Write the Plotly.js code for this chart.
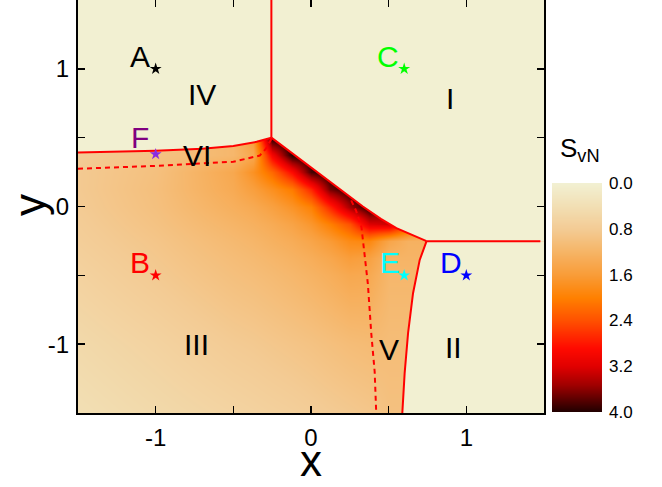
<!DOCTYPE html>
<html>
<head>
<meta charset="utf-8">
<script src="https://cdn.plot.ly/plotly-3.0.1.min.js"></script>
<style>
  body { margin: 0; background: #ffffff; }
  #myPlot { width: 662px; height: 487px; }
</style>
</head>
<body>
<div id="myPlot"></div>
<script>
// Grid of S_vN values
var gridX = [-1.5, -1.0, -0.5, -0.375, -0.25, -0.125, 0, 0.125, 0.25, 0.375, 0.5, 0.625, 0.75, 1.0, 1.5];
var gridY = [-1.5, -1.0, -0.5, -0.375, -0.25, -0.125, 0, 0.125, 0.25, 0.375, 0.5, 1.5];
var svnM150 = [0.40, 0.52, 0.63, 0.66, 0.69, 0.72, 0.76, 0.80, 0.84, 0.88, 0.98, 0.98, 0.98, 0.98, 0.98];
var svnM100 = [0.52, 0.65, 0.80, 0.83, 0.87, 0.91, 0.95, 1.00, 1.05, 1.08, 1.05, 1.05, 1.05, 1.05, 1.05];
var svnM050 = [0.66, 0.82, 1.00, 1.04, 1.09, 1.15, 1.22, 1.30, 1.40, 1.38, 1.15, 1.15, 1.15, 1.15, 1.15];
var svnM038 = [0.70, 0.86, 1.05, 1.10, 1.16, 1.23, 1.31, 1.42, 1.58, 1.52, 1.20, 1.20, 1.20, 1.20, 1.20];
var svnM025 = [0.74, 0.90, 1.11, 1.17, 1.25, 1.33, 1.45, 1.62, 1.85, 1.90, 1.45, 1.25, 1.25, 1.25, 1.25];
var svnM013 = [0.77, 0.95, 1.19, 1.26, 1.35, 1.48, 1.68, 2.00, 2.40, 3.20, 3.30, 2.60, 1.50, 1.25, 1.25];
var svnP000 = [0.80, 0.99, 1.28, 1.37, 1.52, 1.72, 1.98, 2.70, 3.50, 4.00, 3.60, 2.60, 1.50, 1.25, 1.25];
var svnP013 = [0.82, 1.01, 1.36, 1.55, 1.78, 2.05, 2.70, 3.70, 4.00, 4.00, 3.60, 2.60, 1.50, 1.25, 1.25];
var svnP025 = [0.82, 0.99, 1.40, 1.75, 2.20, 2.90, 3.85, 4.00, 4.00, 4.00, 3.60, 2.60, 1.50, 1.25, 1.25];
var svnP038 = [0.78, 0.95, 1.15, 1.40, 3.00, 4.00, 4.00, 4.00, 4.00, 4.00, 3.60, 2.60, 1.50, 1.25, 1.25];
var svnP050 = [0.78, 0.95, 1.15, 1.60, 4.00, 4.00, 4.00, 4.00, 4.00, 4.00, 3.60, 2.60, 1.50, 1.25, 1.25];
var svnP150 = [0.78, 0.95, 1.15, 1.60, 4.00, 4.00, 4.00, 4.00, 4.00, 4.00, 3.60, 2.60, 1.50, 1.25, 1.25];

// Phase boundaries (solid)
var vertX = [-0.255, -0.255];
var vertY = [1.5, 0.5];
var viX = [-1.5, -1.0, -0.7, -0.5, -0.35, -0.255];
var viY = [0.392, 0.405, 0.42, 0.44, 0.47, 0.5];
var diagX = [-0.255, -0.1, 0.118, 0.334, 0.45, 0.55, 0.744];
var diagY = [0.5, 0.37, 0.182, 0.0, -0.09, -0.157, -0.252];
var horX = [0.744, 1.477];
var horY = [-0.252, -0.252];
var vRightX = [0.744, 0.70, 0.657, 0.625, 0.603, 0.588];
var vRightY = [-0.252, -0.388, -0.63, -0.92, -1.21, -1.5];
// Dashed lines
var dashViX = [-1.5, -1.0, -0.5, -0.33, -0.29, -0.255];
var dashViY = [0.274, 0.295, 0.325, 0.37, 0.42, 0.49];
var dashVX = [0.259, 0.29, 0.325, 0.345, 0.366, 0.388, 0.41, 0.42];
var dashVY = [0.045, -0.03, -0.15, -0.35, -0.56, -0.92, -1.2, -1.5];

// Points A-F
var ptName = ["A", "C", "F", "B", "E", "D"];
var ptX = [-1, 0.6, -1, -1, 0.6, 1];
var ptY = [1, 1, 0.38, -0.5, -0.5, -0.5];
var ptStar = ["#000000", "#00ff00", "#8a2be2", "#ff0000", "#00ffff", "#0000ff"];
var ptText = ["#000000", "#00ff00", "#800080", "#ff0000", "#00ffff", "#0000ff"];
var nameX = [-1.101, 0.497, -1.104, -1.101, 0.506, 0.899];
var nameY = [1.092, 1.092, 0.50, -0.406, -0.406, -0.406];

// Region labels
var regName = ["IV", "I", "VI", "III", "V", "II"];
var regX = [-0.703, 0.898, -0.735, -0.739, 0.50, 0.920];
var regY = [0.812, 0.783, 0.369, -0.999, -1.042, -1.024];

// Colour bar
var barLevels = [0, 4];
var barTicks = [0, 0.8, 1.6, 2.4, 3.2, 4.0];

var cream = "#f2f0d2";
var heat = [[0, "#f2f0d2"], [0.1, "#f2dfb4"], [0.2, "#f3cb94"], [0.3, "#f6b466"], [0.4, "#f99c38"],
  [0.5, "#ff8000"], [0.6, "#ff5000"], [0.72, "#ff0a00"], [0.8, "#e00000"], [0.88, "#a00000"], [1, "#1e0000"]];
var font = "Liberation Sans, Arial, sans-serif";

// Define Data
var data = [];
data.push({
  type: "heatmap", x: gridX, y: gridY,
  z: [svnM150, svnM100, svnM050, svnM038, svnM025, svnM013, svnP000, svnP013, svnP025, svnP038, svnP050, svnP150],
  zmin: 0, zmax: 4, colorscale: heat, zsmooth: "best", showscale: false, hoverinfo: "skip"
});

// cream regions I, II, IV on top of the map
data.push({
  x: [-1.6].concat(vertX, viX.slice().reverse(), [-1.6]),
  y: [1.6].concat([1.6, 0.5], viY.slice().reverse(), [0.392]),
  mode: "none", fill: "toself", fillcolor: cream, hoverinfo: "skip"
});
data.push({
  x: [-0.255].concat(diagX, [1.6, 1.6]),
  y: [1.6].concat(diagY, [-0.252, 1.6]),
  mode: "none", fill: "toself", fillcolor: cream, hoverinfo: "skip"
});
data.push({
  x: vRightX.concat([0.588, 1.6, 1.6]),
  y: vRightY.concat([-1.6, -1.6, -0.252]),
  mode: "none", fill: "toself", fillcolor: cream, hoverinfo: "skip"
});

var solid = {color: "#ff0000", width: 2};
var dashed = {color: "#ff0000", width: 2, dash: "5px,4px"};
data.push({x: vertX, y: vertY, mode: "lines", line: solid});
data.push({x: viX, y: viY, mode: "lines", line: solid});
data.push({x: diagX, y: diagY, mode: "lines", line: solid});
data.push({x: horX, y: horY, mode: "lines", line: solid});
data.push({x: vRightX, y: vRightY, mode: "lines", line: solid});
data.push({x: dashViX, y: dashViY, mode: "lines", line: dashed});
data.push({x: dashVX, y: dashVY, mode: "lines", line: dashed});

data.push({
  x: ptX, y: ptY, mode: "markers",
  marker: {symbol: "star", size: 9, color: ptStar, line: {width: 0}}
});

// colour bar drawn as its own small heatmap so 0 sits at the top
data.push({
  type: "heatmap", x: [0, 1], y: barLevels, z: [[barLevels[0], barLevels[0]], [barLevels[1], barLevels[1]]],
  xaxis: "x2", yaxis: "y2", zmin: 0, zmax: 4, colorscale: heat, zsmooth: "best", showscale: false, hoverinfo: "skip"
});

var ann = [];
for (var k = 0; k < ptName.length; k++) {
  ann.push({x: nameX[k], y: nameY[k], xref: "x", yref: "y", text: ptName[k], showarrow: false,
    xanchor: "center", yanchor: "middle", font: {family: font, size: 30, color: ptText[k]}});
}
for (var k = 0; k < regName.length; k++) {
  ann.push({x: regX[k], y: regY[k], xref: "x", yref: "y", text: regName[k], showarrow: false,
    xanchor: "center", yanchor: "middle", font: {family: font, size: 30, color: "#000000"}});
}
ann.push({x: 0.5 * 0.8262, y: -0.116, xref: "paper", yref: "paper", text: "x", showarrow: false,
  xanchor: "center", yanchor: "middle", font: {family: font, size: 44, color: "#000000"}});
ann.push({x: -0.085, y: 0.504, xref: "paper", yref: "paper", text: "y", textangle: -90, showarrow: false,
  xanchor: "center", yanchor: "middle", font: {family: font, size: 44, color: "#000000"}});
ann.push({x: 0.851, y: 0.637, xref: "paper", yref: "paper", xanchor: "left", yanchor: "middle",
  text: "S<sub>vN</sub>", showarrow: false, font: {family: font, size: 26, color: "#000000"}});

var axisStyle = {
  range: [-1.5, 1.5], showgrid: false, zeroline: false,
  showline: true, linecolor: "#000000", linewidth: 2, mirror: "ticks",
  ticks: "inside", ticklen: 7, tickwidth: 1.5, tickcolor: "#000000",
  tickvals: [-1, 0, 1], ticktext: ["-1", "0", "1"],
  minor: {tickvals: [-0.5, 0.5], ticks: "inside", ticklen: 7, tickwidth: 1.5, tickcolor: "#000000"},
  tickfont: {family: font, size: 24, color: "#000000"}
};

// Define Layout
var layout = {
  width: 662, height: 487,
  margin: {l: 78, r: 20, t: 0, b: 74},
  paper_bgcolor: "#ffffff", plot_bgcolor: cream,
  showlegend: false,
  xaxis: Object.assign({domain: [0, 0.8262], ticklabelstandoff: 2}, axisStyle),
  yaxis: Object.assign({domain: [0, 1], ticklabelstandoff: 2}, axisStyle),
  xaxis2: {domain: [0.8404, 0.9291], range: [0, 1], visible: false, anchor: "y2", fixedrange: true},
  yaxis2: {domain: [0.0024, 0.5569], range: [4, 0], anchor: "x2", side: "right",
    showgrid: false, zeroline: false, showline: false, ticks: "",
    tickvals: barTicks, tickformat: ".1f", ticklabelstandoff: 6,
    tickfont: {family: font, size: 17, color: "#000000"}},
  annotations: ann
};

// Display using Plotly
Plotly.newPlot("myPlot", data, layout, {displayModeBar: false, staticPlot: true});
</script>
</body>
</html>
